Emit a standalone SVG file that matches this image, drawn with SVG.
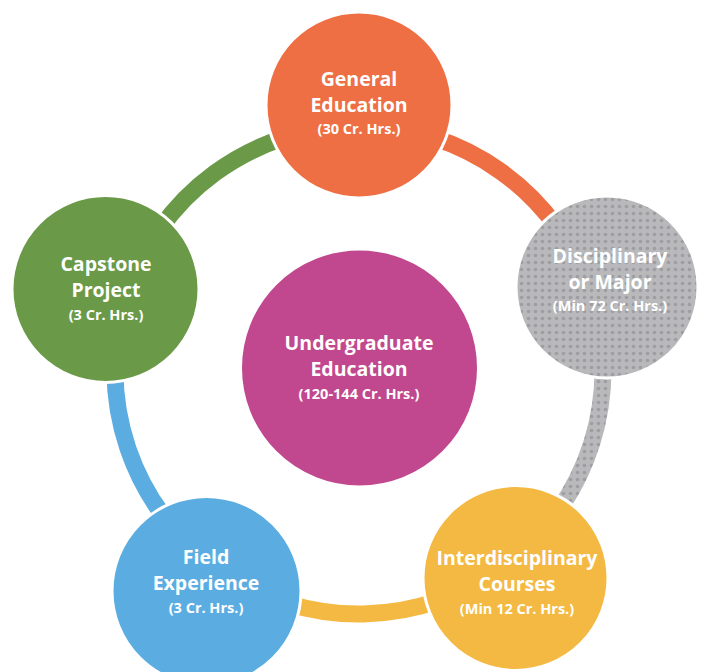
<svg xmlns="http://www.w3.org/2000/svg" width="701" height="672" viewBox="0 0 701 672">
  <style>
    .node { stroke: #ffffff; stroke-width: 3; }
    .t { font-family: "Open Sans", Lato, "Liberation Sans", sans-serif; font-weight: 700; fill: #ffffff; text-anchor: middle; }
    .big { font-size: 19.5px; }
    .small { font-size: 14.5px; }
    .ring { fill: none; stroke-width: 17; }
  </style>
  <defs>
    <pattern id="dots" width="7" height="7" patternUnits="userSpaceOnUse">
      <rect width="7" height="7" fill="#b9b9bc"/>
      <circle cx="3.5" cy="3.5" r="1.8" fill="#9d9da2"/>
    </pattern>
  </defs>
  <rect width="701" height="672" fill="#ffffff"/>
  <g id="connectors">
    <path class="ring" stroke="#ee6f43" d="M 359 126 A 244 244 0 0 1 590.4 292.6"/>
    <path class="ring" stroke="url(#dots)" d="M 590.4 292.6 A 244 244 0 0 1 505.5 565.1"/>
    <path class="ring" stroke="#f4b943" d="M 505.5 565.1 A 244 244 0 0 1 220.1 570.6"/>
    <path class="ring" stroke="#5badE1" d="M 220.1 570.6 A 244 244 0 0 1 126.5 295.8"/>
    <path class="ring" stroke="#6a9a48" d="M 126.5 295.8 A 244 244 0 0 1 359 126"/>
  </g>
  <g id="center">
    <circle class="node" cx="359.5" cy="368" r="119" fill="#c1488e"/>
    <text class="t big" x="359" y="350">Undergraduate</text>
    <text class="t big" x="359" y="376">Education</text>
    <text class="t small" x="359" y="399">(120-144 Cr. Hrs.)</text>
  </g>
  <g id="general">
    <circle class="node" cx="359" cy="105" r="93" fill="#ee6f43"/>
    <text class="t big" x="359" y="86">General</text>
    <text class="t big" x="359" y="112">Education</text>
    <text class="t small" x="359" y="134">(30 Cr. Hrs.)</text>
  </g>
  <g id="disciplinary">
    <circle class="node" cx="607" cy="287" r="91" fill="url(#dots)"/>
    <text class="t big" x="610" y="263">Disciplinary</text>
    <text class="t big" x="610" y="289">or Major</text>
    <text class="t small" x="610" y="311">(Min 72 Cr. Hrs.)</text>
  </g>
  <g id="interdisciplinary">
    <circle class="node" cx="515.5" cy="578" r="92.5" fill="#f4b943"/>
    <text class="t big" x="517" y="565">Interdisciplinary</text>
    <text class="t big" x="517" y="591">Courses</text>
    <text class="t small" x="517" y="614">(Min 12 Cr. Hrs.)</text>
  </g>
  <g id="field">
    <circle class="node" cx="206.5" cy="591" r="94.5" fill="#5badE1"/>
    <text class="t big" x="206" y="564">Field</text>
    <text class="t big" x="206" y="590">Experience</text>
    <text class="t small" x="206" y="613">(3 Cr. Hrs.)</text>
  </g>
  <g id="capstone">
    <circle class="node" cx="105.5" cy="289" r="93.5" fill="#6a9a48"/>
    <text class="t big" x="106" y="271">Capstone</text>
    <text class="t big" x="106" y="297">Project</text>
    <text class="t small" x="106" y="320">(3 Cr. Hrs.)</text>
  </g>
</svg>
